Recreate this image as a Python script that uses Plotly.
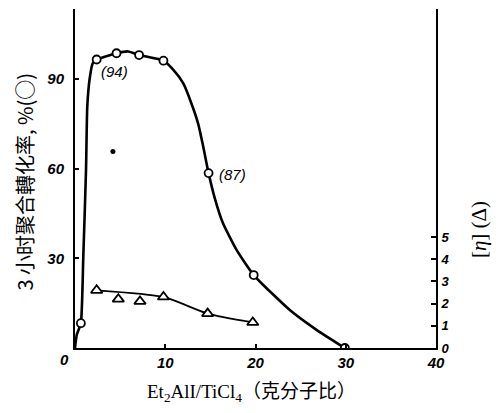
import plotly.graph_objects as go

# measured points: conversion (%) after 3 h
conv_x = [0.65, 2.4, 4.6, 7.1, 9.8, 14.8, 19.8, 29.9]
conv_y = [8.3, 96.5, 98.6, 98.0, 96.1, 58.5, 24.4, 0.0]
# drawn smooth curve through conversion data
curve_x = [0, 0.2, 0.65, 0.92, 1.22, 1.36, 1.62, 1.96, 2.4, 4.6, 5.9, 7.1, 9.8, 10.9, 12.0, 12.9, 13.65, 14.2, 14.8, 15.5, 16.4, 17.9, 19.8, 23.8, 26.8, 29.9]
curve_y = [0, 4.5, 8.3, 30.5, 59.5, 80.7, 90.0, 95.2, 96.5, 98.6, 99.2, 98.0, 96.1, 93.0, 88.5, 81.8, 75.0, 67.5, 58.5, 50.0, 41.7, 32.8, 24.4, 12.7, 6.0, 0]
# single filled point
dot_x = [4.2]
dot_y = [65.7]
# intrinsic viscosity [eta]
eta_x = [2.4, 4.8, 7.2, 9.8, 14.7, 19.7]
eta_y = [2.6, 2.2, 2.1, 2.3, 1.55, 1.15]
eta_line_x = [2.4, 9.8, 14.7, 19.7]
eta_line_y = [2.6, 2.3, 1.55, 1.15]

labels = [("(94)", 4.4, 92.6), ("(87)", 17.5, 57.9)]

fig = go.Figure()
fig.add_trace(go.Scatter(x=curve_x, y=curve_y, mode="lines", line=dict(color="black", width=2.6, shape="spline", smoothing=0.5), hoverinfo="skip"))
fig.add_trace(go.Scatter(x=conv_x, y=conv_y, mode="markers", marker=dict(symbol="circle", size=8, color="white", line=dict(color="black", width=1.8))))
fig.add_trace(go.Scatter(x=dot_x, y=dot_y, mode="markers", marker=dict(symbol="circle", size=5, color="black")))
fig.add_trace(go.Scatter(x=eta_line_x, y=eta_line_y, yaxis="y2", mode="lines", line=dict(color="black", width=1.8, shape="spline", smoothing=0.6), hoverinfo="skip"))
fig.add_trace(go.Scatter(x=eta_x, y=eta_y, yaxis="y2", mode="markers", marker=dict(symbol="triangle-up", size=10, color="white", line=dict(color="black", width=1.8))))

tickfont = dict(family="Liberation Sans", size=15, color="black", style="italic", weight="bold")

fig.update_layout(
    width=503, height=413,
    margin=dict(l=75, r=67, t=9, b=65),
    paper_bgcolor="white", plot_bgcolor="white",
    showlegend=False,
    xaxis=dict(range=[0, 40], tickvals=[10, 20, 30, 40], ticktext=["10", "20", "30", "40"],
               ticks="inside", ticklen=4, tickcolor="black", tickwidth=1.5,
               showline=True, linecolor="black", linewidth=2, showgrid=False, zeroline=False,
               tickfont=tickfont),
    yaxis=dict(range=[0, 113.4], tickvals=[30, 60, 90], ticks="inside", ticklen=4, tickcolor="black", tickwidth=1.5,
               showline=True, linecolor="black", linewidth=2, showgrid=False, zeroline=False,
               tickfont=tickfont, ticklabelstandoff=6),
    yaxis2=dict(range=[0, 15.27], overlaying="y", side="right", tickvals=[0, 1, 2, 3, 4, 5],
                ticks="inside", ticklen=5, tickcolor="black", tickwidth=1.5,
                showline=True, linecolor="black", linewidth=2, showgrid=False, zeroline=False,
                tickfont=dict(family="Liberation Sans", size=13, color="black", style="italic", weight="bold"),
                ticklabelstandoff=1),
)

for txt, x, y in labels:
    fig.add_annotation(x=x, y=y, text=txt, showarrow=False,
                       font=dict(family="Liberation Sans", size=15, color="black", style="italic"))

fig.add_annotation(xref="paper", yref="paper", x=-0.03, y=-0.035, text="0", showarrow=False,
                   font=tickfont, xanchor="center", yanchor="middle")

fig.add_annotation(xref="paper", yref="paper", x=-0.185, y=0.49, textangle=-90,
                   text="3 小时聚合轉化率, %(○)", showarrow=False,
                   font=dict(family="Noto Sans CJK SC", size=20, color="black"))
fig.add_annotation(xref="paper", yref="paper", x=1.16, y=0.35, textangle=-90,
                   text="[<i>η</i>] (Δ)", showarrow=False,
                   font=dict(family="Liberation Serif, Noto Sans CJK SC", size=21, color="black"))
fig.add_annotation(xref="paper", yref="paper", x=0.49, y=-0.175,
                   text="Et<sub>2</sub>AlI/TiCl<sub>4</sub>（克分子比）", showarrow=False,
                   font=dict(family="Liberation Serif, Noto Sans CJK SC", size=19, color="black"))

fig.write_html("out.html")
